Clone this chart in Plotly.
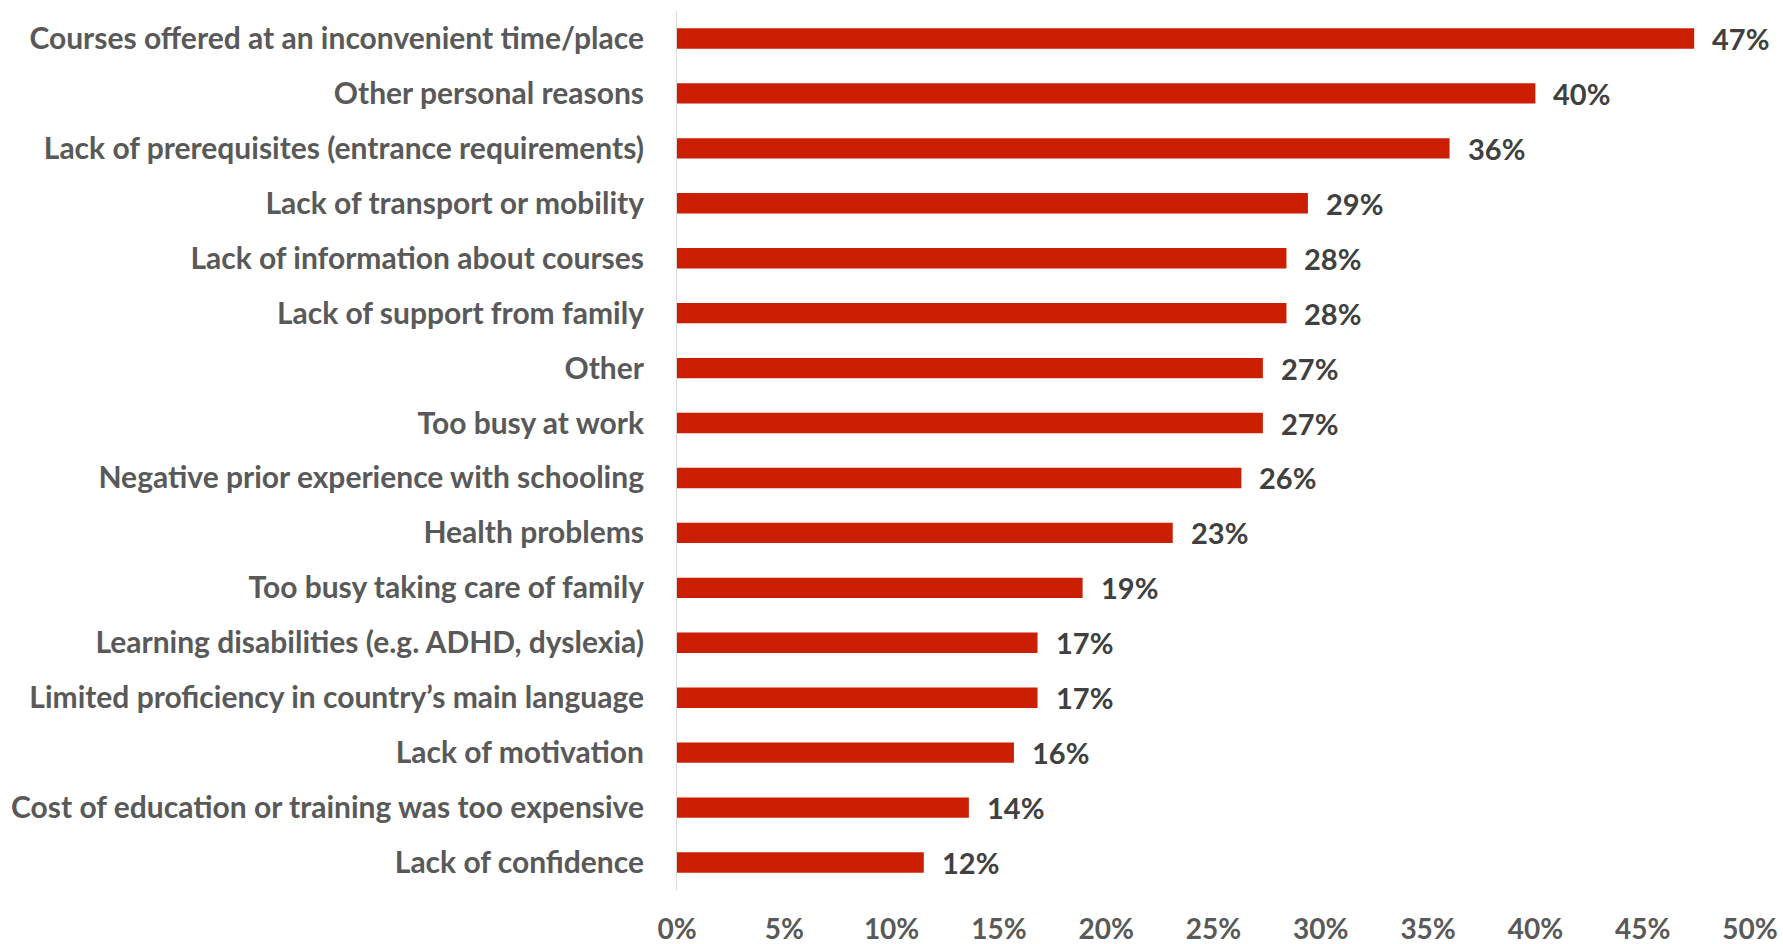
import plotly.graph_objects as go

categories = [
    "Courses offered at an inconvenient time/place",
    "Other personal reasons",
    "Lack of prerequisites (entrance requirements)",
    "Lack of transport or mobility",
    "Lack of information about courses",
    "Lack of support from family",
    "Other",
    "Too busy at work",
    "Negative prior experience with schooling",
    "Health problems",
    "Too busy taking care of family",
    "Learning disabilities (e.g. ADHD, dyslexia)",
    "Limited proficiency in country\u2019s main language",
    "Lack of motivation",
    "Cost of education or training was too expensive",
    "Lack of confidence",
]
values = [47.4, 40.0, 36.0, 29.4, 28.4, 28.4, 27.3, 27.3, 26.3, 23.1, 18.9, 16.8, 16.8, 15.7, 13.6, 11.5]
labels = [f"{round(v)}%" for v in values]
tick_vals = [0, 5, 10, 15, 20, 25, 30, 35, 40, 45, 50]
tick_text = [f"{t}%" for t in tick_vals]

FONT = "Lato, sans-serif"
BAR = "#CC1E00"

fig = go.Figure()
fig.add_trace(go.Bar(
    x=values,
    y=categories,
    orientation="h",
    marker=dict(color=BAR, line=dict(width=0)),
    hoverinfo="x+y",
))

annotations = [
    dict(x=v, y=c, text=t, xref="x", yref="y", showarrow=False,
         xanchor="left", yanchor="middle", xshift=16,
         font=dict(family=FONT, size=29, color="#404040", weight="bold"))
    for v, c, t in zip(values, categories, labels)
]

fig.update_layout(
    width=1783,
    height=944,
    margin=dict(l=677, r=33, t=11, b=54),
    paper_bgcolor="white",
    plot_bgcolor="white",
    bargap=0.63,
    showlegend=False,
    annotations=annotations,
    font=dict(family=FONT, size=29, color="#595959"),
    xaxis=dict(
        range=[0, 50],
        tickvals=tick_vals,
        ticktext=tick_text,
        showgrid=False,
        zeroline=False,
        showline=False,
        ticks="outside",
        ticklen=14,
        tickcolor="rgba(0,0,0,0)",
        automargin=False,
        tickfont=dict(family=FONT, size=28, color="#595959", weight="bold"),
    ),
    yaxis=dict(
        categoryorder="array",
        categoryarray=categories[::-1],
        autorange=True,
        showgrid=False,
        zeroline=False,
        showline=True,
        linecolor="#D9D9D9",
        linewidth=1,
        ticks="outside",
        ticklen=26,
        tickcolor="rgba(0,0,0,0)",
        automargin=False,
        tickfont=dict(family=FONT, size=30, color="#595959", weight="bold"),
    ),
)

fig.write_html("out.html")
